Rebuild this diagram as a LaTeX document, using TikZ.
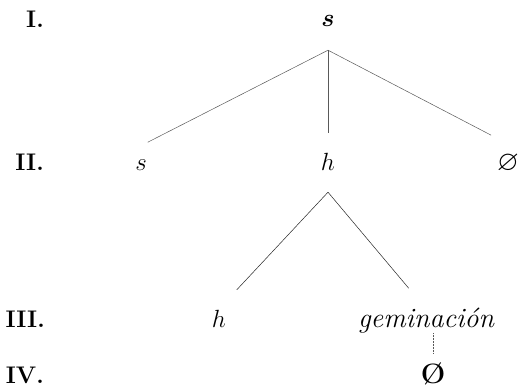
\documentclass[tikz,border=0pt]{standalone}
\usepackage{amssymb}
\usepackage{tikz}
\usetikzlibrary{positioning}

\begin{document}
\begin{tikzpicture}[
            x=1pt, y=-1pt,
            every node/.style={
                inner sep=0pt, text height=18pt, text depth=6pt,
                font=\fontsize{28}{32}\selectfont
            },
            stagelbl/.style={anchor=base east, font=\fontsize{24}{28}\selectfont\bfseries},
            form/.style={anchor=base},
            branch/.style={draw=black!65, line width=0.5pt}
        ]
        \useasboundingbox (0,0) rectangle (521,391);
        % stages
        \node[stagelbl] (lI)   at (44,27)  {I.};
        \node[stagelbl] (lII)  at (44,170) {II.};
        \node[stagelbl] (lIII) at (45,327) {III.};
        \node[stagelbl] (lIV)  at (44,383) {IV.};
        % forms
        \node[form] (root)   at (328,26)  {{\boldmath$s$}};
        \node[form] (sII)    at (141,170) {$s$};
        \node[form] (hII)    at (328,170) {$h$};
        \node[form] (nullII) at (508,170) {$\varnothing$};
        \node[form] (hIII)   at (219,327) {$h$};
        \node[form] (gemIII) at (426,327) {\itshape geminación};
        \node[form] (nullIV) at (433,383) {\textbf{\O}};
        % branches
        \coordinate (jI)  at ([yshift=-18pt]root.south);
        \coordinate (jII) at ([yshift=-16pt]hII.south);
        \draw[branch, shorten >=21pt] (jI) -- ([xshift=-12pt]sII.north);
        \draw[branch, shorten >=19pt] (jI) -- (hII.north);
        \draw[branch, shorten >=36pt] (jI) -- ([xshift=15pt]nullII.north);
        \draw[branch, draw=black!85, shorten >=26pt] (jII) -- (hIII.north);
        \draw[branch, draw=black!85, shorten >=27pt] (jII) -- (gemIII.north);
        \draw[branch, densely dotted, shorten >=12pt] (nullIV.north |- gemIII.south) -- (nullIV.north);
        \end{tikzpicture}
\end{document}
